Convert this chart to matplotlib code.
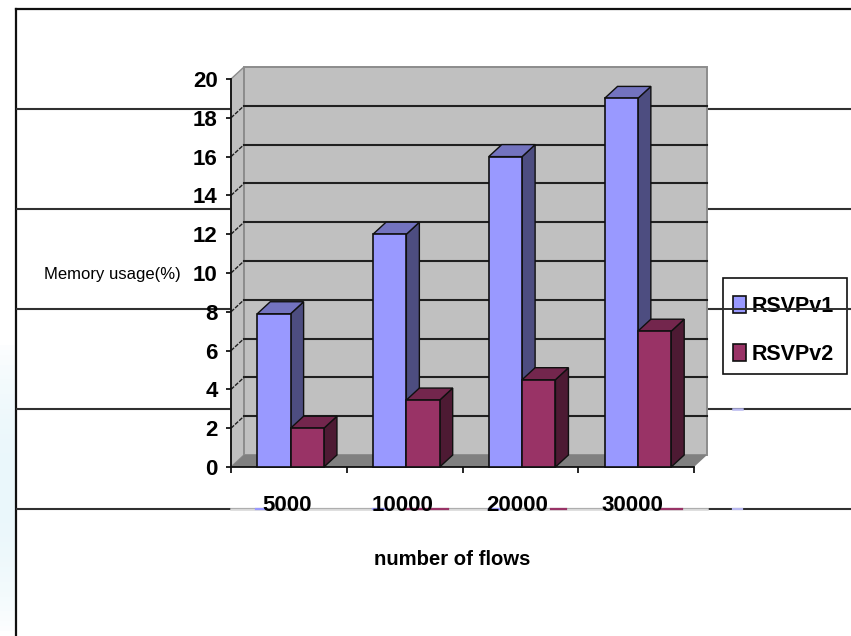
import numpy as np
import matplotlib
matplotlib.use('Agg')
import matplotlib.pyplot as plt
from matplotlib.patches import Polygon, Rectangle
from matplotlib.lines import Line2D

# Memory usage per number of flows
flows = ['5000', '10000', '20000', '30000']
rsvp_v1 = [7.9, 12, 16, 19]
rsvp_v2 = [2, 3.45, 4.5, 7]
y_ticks = [0, 2, 4, 6, 8, 10, 12, 14, 16, 18, 20]

font = 'Liberation Sans'

W, H = 851, 636
fig = plt.figure(figsize=(W / 100, H / 100), dpi=100)

# slide background: pale tint, border and ruled lines, in pixel coordinates
bg = fig.add_axes([0, 0, 1, 1])
bg.axis('off')
tint = np.linspace(0, 1, 60)
tint_rgba = np.ones((60, 1, 4))
tint_rgba[:, 0, :3] = [0.92, 0.97, 0.985]
tint_rgba[:, 0, 3] = np.sin(tint * np.pi) ** 0.7
bg.imshow(tint_rgba, extent=(0, 16, 636, 340), aspect='auto', zorder=0)
bg.set_xlim(0, W)
bg.set_ylim(H, 0)
bg.plot([16, 16], [9, 636], color='#101010', lw=1.6, zorder=1)
bg.plot([16, W], [9, 9], color='#101010', lw=1.6, zorder=1)
for y in [109, 209, 309, 409, 509]:
    bg.plot([17, W], [y, y], color='#303030', lw=1.5, zorder=1)

# washed out strip of the bottom rule under the tick labels
bg.plot([231, 707], [509, 509], color='#d8d8d8', lw=1.8, zorder=2)
for x0, x1, c in [(256, 266, '#9999ff'), (373, 385, '#9999ff'), (407, 448, '#993366'),
                  (489, 500, '#9999ff'), (551, 566, '#993366'), (660, 682, '#993366'),
                  (733, 742, '#b8b8f0')]:
    bg.plot([x0, x1], [509, 509], color=c, lw=1.6, zorder=3)
bg.plot([733, 742], [409, 409], color='#b8b8f0', lw=1.8, zorder=3)

# legend box, the legend itself is drawn without a frame
bg.add_patch(Rectangle((723, 278), 124, 96, fc='white', ec='#101010', lw=1.2, zorder=5))

# chart axes: front plane of the 3D box
ax = fig.add_axes([231 / W, 1 - 467 / H, 463 / W, 388 / H])
ax.patch.set_visible(False)
ax.set_xlim(0, 4)
ax.set_ylim(0, 20)
for s in ['top', 'right']:
    ax.spines[s].set_visible(False)
for s in ['left', 'bottom']:
    ax.spines[s].set_linewidth(1.3)
    ax.spines[s].set_color('#101010')

dx = 13 / 115.75
dy = 12 / 19.4

# side wall, back wall and floor of the box
wall_edge = '#8c8c8c'
ax.add_patch(Polygon([(0, 0), (dx, dy), (dx, 20 + dy), (0, 20)], fc='#c0c0c0', ec=wall_edge, lw=1,
                     zorder=1, clip_on=False))
ax.add_patch(Rectangle((dx, dy), 4, 20, fc='#c0c0c0', ec=wall_edge, lw=1.4, zorder=1, clip_on=False))
ax.add_patch(Polygon([(0, 0), (dx, dy), (4 + dx, dy), (4, 0)], fc='#808080', ec='none', zorder=1.5,
                     clip_on=False))

for v in y_ticks[1:-1]:
    ax.plot([dx, 4 + dx], [v + dy, v + dy], color='#202020', lw=1.5, zorder=2, clip_on=False)
    ax.plot([0, dx], [v, v + dy], color='#202020', lw=1.0, ls=(0, (3, 1)), zorder=2, clip_on=False)

bar_w = 0.288
front = ['#9999ff', '#993366']
top = ['#7373bf', '#73264d']
side = ['#4d4d80', '#4d1a33']
containers = [None, None]
z = 3
for i in range(len(flows)):
    for s, vals in enumerate([rsvp_v1, rsvp_v2]):
        left = i + 0.515 + (s - 1) * bar_w
        h = vals[i]
        ax.add_patch(Polygon([(left + bar_w, 0), (left + bar_w + dx, dy), (left + bar_w + dx, h + dy), (left + bar_w, h)],
                             fc=side[s], ec='#101010', lw=1, zorder=z, clip_on=False))
        ax.add_patch(Polygon([(left, h), (left + dx, h + dy), (left + bar_w + dx, h + dy), (left + bar_w, h)],
                             fc=top[s], ec='#101010', lw=1, zorder=z, clip_on=False))
        b = ax.bar(left, h, width=bar_w, align='edge', color=front[s], edgecolor='#101010', lw=1.2,
                   zorder=z + 0.5, clip_on=False)
        containers[s] = b
        z += 1

ax.set_yticks(y_ticks)
ax.set_yticklabels([str(v) for v in y_ticks], family=font, fontsize=16, weight='bold')
ax.tick_params(axis='y', length=3.5, width=1.2, pad=6)
ax.set_xticks(range(5))
ax.set_xticklabels([])
ax.tick_params(axis='x', which='major', length=4, width=1.2)
ax.set_xticks([0.485, 1.485, 2.475, 3.47], minor=True)
ax.set_xticklabels(flows, minor=True, family=font, fontsize=16, weight='bold')
ax.tick_params(axis='x', which='minor', length=0, pad=20)

ax.set_xlabel('number of flows', family=font, fontsize=14.6, weight='bold')
ax.xaxis.set_label_coords(221 / 463, -83 / 388)
ax.set_ylabel('Memory usage(%)', family=font, fontsize=12, rotation=0, ha='center', va='center')
ax.yaxis.set_label_coords(-119 / 463, 193 / 388)

leg = ax.legend(containers, ['RSVPv1', 'RSVPv2'], loc='upper left',
                prop={'family': font, 'size': 15.5, 'weight': 'bold'},
                bbox_to_anchor=(733 / W, 1 - 296 / H), bbox_transform=fig.transFigure, borderaxespad=0,
                frameon=False, handlelength=0.6, handleheight=0.8,
                handletextpad=0.25, borderpad=0, labelspacing=1.25)

# rule running over the legend box
fig.add_artist(Line2D([723 / W, 847 / W], [1 - 309 / H, 1 - 309 / H], color='#303030', lw=1.4, zorder=10))

fig.savefig('out.png', dpi=100)
